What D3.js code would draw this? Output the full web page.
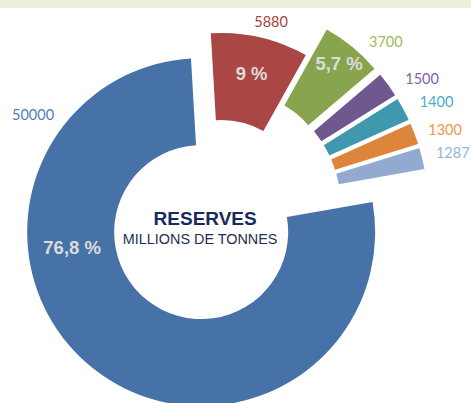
<!DOCTYPE html>
<html>
<head>
<meta charset="utf-8">
<script src="https://cdn.jsdelivr.net/npm/d3@7"></script>
<style>
  html, body { margin: 0; padding: 0; background: #fff; }
  svg { display: block; }
</style>
</head>
<body>
<div id="chart"></div>
<script>
// Reserves donut (millions de tonnes), one blue slice plus six exploded smaller ones.

// data
const categories = ["A", "B", "C", "D", "E", "F", "G"];
const values = [50000, 5880, 3700, 1500, 1400, 1300, 1287];
const pctLabels = ["76,8 %", "9 %", "5,7 %", "", "", "", ""];

// colours
const sliceColors = ["#4672a8", "#aa4644", "#88a44f", "#70578f", "#4098ae", "#dd863b", "#92aad0"];
const labelColors = ["#4f81bd", "#a94442", "#9bbb59", "#8064a2", "#4bacc6", "#f79646", "#95b3d7"];

const width = 471, height = 403;
const cx = 221, cy = 207;          // pie centre before explosion
const rIn = 87, rOut = 174;
const deg = Math.PI / 180;
const startAngle = 80 * deg;

// how far each slice is pulled away from the centre
const explode = [32, 0, 33, 33, 33, 33, 33];
// label tweaks (Excel "best fit" moved a few labels off the bisector)
const valueLabelNudge = [86.6, 2.2, 6.3, 4.1, 2.4, 2.0, 0.5];
const valueLabelR = [205, 192, 201, 206, 207, 204, 205];
const pctLabelNudge = [44.7, 0, 0, 0, 0, 0, 0];
const pctLabelR = [130, 137, 153, 0, 0, 0, 0];

const svg = d3.select("#chart").append("svg")
    .attr("width", width)
    .attr("height", height);

// light green strip across the top
svg.append("rect")
    .attr("x", 0).attr("y", 0)
    .attr("width", width).attr("height", 8)
    .attr("fill", "#ebf1de");

const pie = d3.pie()
    .sort(null)
    .startAngle(startAngle)
    .endAngle(startAngle + 2 * Math.PI);

const arcs = pie(values);

const arc = d3.arc()
    .innerRadius(rIn)
    .outerRadius(rOut);

const polar = (a, r) => [r * Math.sin(a), -r * Math.cos(a)];

const g = svg.append("g")
    .attr("transform", `translate(${cx},${cy})`);

const slice = g.selectAll(".slice")
    .data(arcs)
  .enter().append("g")
    .attr("class", "slice")
    .attr("transform", (d, i) => {
      const mid = (d.startAngle + d.endAngle) / 2;
      const [dx, dy] = polar(mid, explode[i]);
      return `translate(${dx},${dy})`;
    });

slice.append("path")
    .attr("d", arc)
    .attr("fill", (d, i) => sliceColors[i]);

// percentages inside the ring
slice.filter((d, i) => pctLabels[i] !== "")
  .append("text")
    .attr("transform", (d, i) => {
      const mid = (d.startAngle + d.endAngle) / 2 + pctLabelNudge[d.index] * deg;
      const [x, y] = polar(mid, pctLabelR[d.index]);
      return `translate(${x},${y})`;
    })
    .attr("text-anchor", "middle")
    .attr("dominant-baseline", "central")
    .style("font-family", "'Liberation Sans', Arial, sans-serif")
    .style("font-weight", "bold")
    .style("font-size", "18.5px")
    .style("fill", "#dcdcdc")
    .text(d => pctLabels[d.index]);

// values outside the ring
slice.append("text")
    .attr("transform", d => {
      const mid = (d.startAngle + d.endAngle) / 2 + valueLabelNudge[d.index] * deg;
      const [x, y] = polar(mid, valueLabelR[d.index]);
      return `translate(${x},${y})`;
    })
    .attr("text-anchor", "middle")
    .attr("dominant-baseline", "central")
    .style("font-family", "Lato, 'Open Sans', sans-serif")
    .style("font-size", "14.5px")
    .style("fill", d => labelColors[d.index])
    .text(d => values[d.index]);

// centre title, placed in the hole of the big slice
const hole = arcs[0];
const holeMid = (hole.startAngle + hole.endAngle) / 2;
const [hx, hy] = polar(holeMid, explode[0]);

svg.append("text")
    .attr("x", cx + hx + 4)
    .attr("y", cy + hy - 7)
    .attr("text-anchor", "middle")
    .style("font-family", "'Liberation Sans', Arial, sans-serif")
    .style("font-weight", "bold")
    .style("font-size", "19px")
    .style("fill", "#1b2a5e")
    .text("RESERVES");

svg.append("text")
    .attr("x", cx + hx - 1)
    .attr("y", cy + hy + 12)
    .attr("text-anchor", "middle")
    .style("font-family", "'Liberation Sans', Arial, sans-serif")
    .style("font-size", "14.4px")
    .style("fill", "#1f2d52")
    .text("MILLIONS DE TONNES");
</script>
</body>
</html>
